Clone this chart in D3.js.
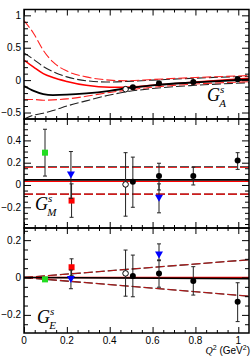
<!DOCTYPE html>
<html><head><meta charset="utf-8">
<script src="https://cdn.jsdelivr.net/npm/d3@7"></script>
<style>
body{margin:0;background:#fff}
text{font-family:"Liberation Sans",Arial,sans-serif;fill:#000}
.lab{font-family:"Liberation Serif","Times New Roman",serif;font-style:italic}
</style></head><body>
<svg id="chart" width="252" height="360"></svg>
<script>
// model curves, G_A panel
var qCurve      = [0, 0.045, 0.09, 0.135, 0.2, 0.29, 0.4, 0.48, 0.6, 0.8, 1.05];
var gaRedDashHi = [0.92, 0.72, 0.46, 0.28, 0.14, 0.05, 0.0, -0.01, 0.01, 0.04, 0.07];
var gaBlkDashHi = [0.42, 0.32, 0.21, 0.13, 0.05, -0.01, -0.03, -0.02, 0.0, 0.03, 0.06];
var gaRedSolid  = [0.31, 0.2, 0.1, 0.04, -0.02, -0.08, -0.11, -0.11, -0.08, -0.03, 0.03];
var gaBlkSolid  = [-0.09, -0.165, -0.215, -0.23, -0.225, -0.205, -0.165, -0.125, -0.08, -0.035, 0.01];
var gaRedDashLo = [-0.3, -0.3, -0.31, -0.305, -0.29, -0.25, -0.19, -0.155, -0.11, -0.06, -0.025];
var gaBlkDashLo = [-0.6, -0.54, -0.51, -0.47, -0.4, -0.32, -0.23, -0.18, -0.13, -0.08, -0.04];

// straight fit lines for G_M and G_E
var qLine       = [0, 1.05];
var gmBlkSolid  = [0.045, 0.045];
var gmRedSolid  = [0.032, 0.032];
var gmDashHi    = [0.165, 0.165];
var gmDashLo    = [-0.082, -0.082];
var geBlkSolid  = [0, -0.006];
var geRedSolid  = [0, 0.0];
var geDashHi    = [0, 0.095];
var geDashLo    = [0, -0.1];

// data points
var qBlack  = [0.508, 0.63, 0.79, 0.997];
var qOpen   = [0.474];
var qGreen  = [0.098];
var qRed    = [0.222];
var qBlue   = [0.219, 0.63];

var gaBlack = [-0.11, -0.05, -0.03, 0.015];
var gaBlackErr = [0.02, 0.02, 0.02, 0.02];
var gaOpen  = [-0.14];
var gaOpenErr = [0.02];

var gmBlack = [0.03, 0.08, 0.08, 0.22];
var gmBlackLo = [-0.2, -0.045, 0.0, 0.14];
var gmBlackHi = [0.25, 0.195, 0.16, 0.29];
var gmOpen = [0.005], gmOpenLo = [-0.28], gmOpenHi = [0.29];
var gmGreen = [0.29], gmGreenLo = [0.08], gmGreenHi = [0.5];
var gmRed = [-0.14], gmRedLo = [-0.29], gmRedHi = [0.01];
var gmBlue = [0.09, -0.12], gmBlueLo = [-0.12, -0.25], gmBlueHi = [0.3, 0.01];

var geBlack = [0.008, 0.022, -0.019, -0.13];
var geBlackLo = [-0.103, -0.052, -0.094, -0.236];
var geBlackHi = [0.12, 0.094, 0.058, -0.028];
var geOpen = [0.022], geOpenLo = [-0.1], geOpenHi = [0.147];
var geGreen = [-0.01], geGreenLo = [-0.02], geGreenHi = [0.0];
var geRed = [0.055], geRedLo = [0.01], geRedHi = [0.1];
var geBlue = [-0.01, 0.12], geBlueLo = [-0.06, 0.09], geBlueHi = [0.04, 0.18];

var xTicks = [0, 0.2, 0.4, 0.6, 0.8, 1];
var xLabels = ["0", "0.2", "0.4", "0.6", "0.8", "1"];

var svg = d3.select("#chart");
var left = 24, right = 249;
var x = d3.scaleLinear().domain([0, 1.05]).range([left, right]);

var panels = [
  {top: 9.5, bottom: 119, dom: [-0.6, 1.09], major: [-0.5, 0, 0.5, 1], minorStep: 0.1, sub: "A"},
  {top: 119, bottom: 228, dom: [-0.386, 0.592], major: [-0.2, 0, 0.2, 0.4], minorStep: 0.05, sub: "M"},
  {top: 228, bottom: 333, dom: [-0.297, 0.265], major: [-0.2, 0, 0.2], minorStep: 0.05, sub: "E"}
];
panels.forEach(function(p){
  p.y = d3.scaleLinear().domain(p.dom).range([p.bottom, p.top]);
});

var fmt = function(v){ return v < 0 ? "\u2212" + Math.abs(v) : "" + v; };

var defs = svg.append("defs");

var drawCurve = function(g, p, xs, ys, color, width, dash, smooth)
{
  var line = d3.line()
    .x(function(d){ return x(d[0]); })
    .y(function(d){ return p.y(d[1]); })
    .curve(smooth ? d3.curveMonotoneX : d3.curveLinear);
  g.append("path")
    .attr("d", line(d3.zip(xs, ys)))
    .attr("fill", "none")
    .attr("stroke", color)
    .attr("stroke-width", width)
    .attr("stroke-dasharray", dash || null);
};

var drawPoints = function(g, p, xs, ys, lo, hi, shape, color)
{
  var pts = d3.zip(xs, ys, lo, hi);
  var eb = g.append("g").attr("stroke", "#222").attr("stroke-width", 1);
  pts.forEach(function(d){
    var px = x(d[0]);
    eb.append("line").attr("x1", px).attr("x2", px).attr("y1", p.y(d[2])).attr("y2", p.y(d[3]));
    eb.append("line").attr("x1", px - 2).attr("x2", px + 2).attr("y1", p.y(d[2])).attr("y2", p.y(d[2]));
    eb.append("line").attr("x1", px - 2).attr("x2", px + 2).attr("y1", p.y(d[3])).attr("y2", p.y(d[3]));
  });
  pts.forEach(function(d){
    var px = x(d[0]), py = p.y(d[1]);
    if (shape == "circle")
      g.append("circle").attr("cx", px).attr("cy", py).attr("r", 3).attr("fill", "#000");
    else if (shape == "open")
      g.append("circle").attr("cx", px).attr("cy", py).attr("r", 2.8).attr("fill", "#fff").attr("stroke", "#000").attr("stroke-width", 1);
    else if (shape == "square")
      g.append("rect").attr("x", px - 3).attr("y", py - 3).attr("width", 6).attr("height", 6).attr("fill", color);
    else
      g.append("path").attr("d", "M" + (px - 4) + "," + (py - 3.5) + "L" + (px + 4) + "," + (py - 3.5) + "L" + px + "," + (py + 3.5) + "Z").attr("fill", color);
  });
};

panels.forEach(function(p, i){
  defs.append("clipPath").attr("id", "clip" + i)
    .append("rect").attr("x", left).attr("y", p.top).attr("width", right - left).attr("height", p.bottom - p.top);
  p.g = svg.append("g");
  p.plot = p.g.append("g").attr("clip-path", "url(#clip" + i + ")");
});

// G_A panel
var pa = panels[0];
drawCurve(pa.plot, pa, qCurve, gaBlkDashLo, "#222", 1.1, "9,3", true);
drawCurve(pa.plot, pa, qCurve, gaRedDashLo, "#f22", 1.1, "9,3", true);
drawCurve(pa.plot, pa, qCurve, gaBlkDashHi, "#222", 1.1, "9,3", true);
drawCurve(pa.plot, pa, qCurve, gaRedDashHi, "#f22", 1.1, "9,3", true);
drawCurve(pa.plot, pa, qCurve, gaRedSolid, "#f00", 1.6, null, true);
drawCurve(pa.plot, pa, qCurve, gaBlkSolid, "#000", 1.8, null, true);
drawPoints(pa.plot, pa, qOpen, gaOpen, gaOpen.map(function(v,k){return v - gaOpenErr[k];}), gaOpen.map(function(v,k){return v + gaOpenErr[k];}), "open");
drawPoints(pa.plot, pa, qBlack, gaBlack, gaBlack.map(function(v,k){return v - gaBlackErr[k];}), gaBlack.map(function(v,k){return v + gaBlackErr[k];}), "circle");

// G_M panel
var pm = panels[1];
drawCurve(pm.plot, pm, qLine, gmDashHi, "#555", 1.3, "9,3");
drawCurve(pm.plot, pm, qLine, gmDashHi.map(function(v){return v - 0.008;}), "#e22", 1, "9,3");
drawCurve(pm.plot, pm, qLine, gmDashLo, "#444", 1.3, "9,3");
drawCurve(pm.plot, pm, qLine, gmDashLo, "#e00", 1.1, "9,3");
drawCurve(pm.plot, pm, qLine, gmRedSolid, "#f00", 1.4);
drawCurve(pm.plot, pm, qLine, gmBlkSolid, "#000", 1.8);
drawPoints(pm.plot, pm, qGreen, gmGreen, gmGreenLo, gmGreenHi, "square", "#22dd22");
drawPoints(pm.plot, pm, qRed, gmRed, gmRedLo, gmRedHi, "square", "#f00");
drawPoints(pm.plot, pm, qBlue, gmBlue, gmBlueLo, gmBlueHi, "tri", "#00f");
drawPoints(pm.plot, pm, qOpen, gmOpen, gmOpenLo, gmOpenHi, "open");
drawPoints(pm.plot, pm, qBlack, gmBlack, gmBlackLo, gmBlackHi, "circle");

// G_E panel
var pe = panels[2];
drawCurve(pe.plot, pe, qLine, geDashHi, "#333", 1.3, "9,3");
drawCurve(pe.plot, pe, qLine, geDashHi, "#c11", 0.9, "9,3");
drawCurve(pe.plot, pe, qLine, geDashLo, "#333", 1.3, "9,3");
drawCurve(pe.plot, pe, qLine, geDashLo, "#c11", 0.9, "9,3");
drawCurve(pe.plot, pe, qLine, geRedSolid, "#f00", 1.4);
drawCurve(pe.plot, pe, qLine, geBlkSolid, "#000", 1.6);
drawPoints(pe.plot, pe, qGreen, geGreen, geGreenLo, geGreenHi, "square", "#22dd22");
drawPoints(pe.plot, pe, qRed, geRed, geRedLo, geRedHi, "square", "#f00");
drawPoints(pe.plot, pe, qBlue, geBlue, geBlueLo, geBlueHi, "tri", "#00f");
drawPoints(pe.plot, pe, qOpen, geOpen, geOpenLo, geOpenHi, "open");
drawPoints(pe.plot, pe, qBlack, geBlack, geBlackLo, geBlackHi, "circle");

// frames, ticks, labels
var xMinor = d3.range(0, 1.05, 0.05).filter(function(v){ return Math.round(v * 100) % 20 != 0; });
panels.forEach(function(p, i){
  var h = p.bottom - p.top;
  var yMinor = d3.range(Math.ceil(p.dom[0] / p.minorStep) * p.minorStep, p.dom[1], p.minorStep)
    .filter(function(v){ return !p.major.some(function(m){ return Math.abs(m - v) < 1e-6; }); });

  var axL = d3.axisRight(p.y).tickValues(p.major).tickSize(7).tickFormat("");
  var axLm = d3.axisRight(p.y).tickValues(yMinor).tickSize(4).tickFormat("");
  var axR = d3.axisLeft(p.y).tickValues(p.major).tickSize(7).tickFormat("");
  var axRm = d3.axisLeft(p.y).tickValues(yMinor).tickSize(4).tickFormat("");
  var axB = d3.axisTop(x).tickValues(xTicks).tickSize(6).tickFormat("");
  var axBm = d3.axisTop(x).tickValues(xMinor).tickSize(3).tickFormat("");
  var axT = d3.axisBottom(x).tickValues(xTicks).tickSize(6).tickFormat("");
  var axTm = d3.axisBottom(x).tickValues(xMinor).tickSize(3).tickFormat("");

  [[axL, left, 0], [axLm, left, 0], [axR, right, 0], [axRm, right, 0]].forEach(function(a){
    p.g.append("g").attr("transform", "translate(" + a[1] + ",0)").call(a[0])
      .call(function(s){ s.select(".domain").remove(); s.selectAll("line").attr("stroke", "#000").attr("stroke-width", 1); });
  });
  [[axB, p.bottom], [axBm, p.bottom], [axT, p.top], [axTm, p.top]].forEach(function(a){
    p.g.append("g").attr("transform", "translate(0," + a[1] + ")").call(a[0])
      .call(function(s){ s.select(".domain").remove(); s.selectAll("line").attr("stroke", "#000").attr("stroke-width", 1); });
  });

  p.g.append("rect").attr("x", left).attr("y", p.top).attr("width", right - left).attr("height", h)
    .attr("fill", "none").attr("stroke", "#000").attr("stroke-width", 1.5);

  p.g.selectAll("text.yl").data(p.major).enter().append("text")
    .attr("class", "yl")
    .attr("x", left - 3).attr("y", function(d){ return p.y(d); })
    .attr("dy", "0.35em").attr("text-anchor", "end").attr("font-size", 10)
    .text(fmt);
});

// x tick labels
svg.selectAll("text.xl").data(xTicks).enter().append("text")
  .attr("class", "xl")
  .attr("x", function(d){ return x(d); }).attr("y", 344)
  .attr("text-anchor", "middle").attr("font-size", 10)
  .text(function(d, k){ return xLabels[k]; });

// x axis title
var xt = svg.append("text").attr("x", 250).attr("y", 354).attr("text-anchor", "end").attr("font-size", 10);
xt.append("tspan").attr("class", "lab").attr("font-family", "Liberation Serif").text("Q");
xt.append("tspan").attr("font-size", 7).attr("dy", -4).text("2");
xt.append("tspan").attr("dy", 4).text(" (GeV");
xt.append("tspan").attr("font-size", 7).attr("dy", -4).text("2");
xt.append("tspan").attr("dy", 4).text(")");

// form factor labels
var labelPos = [[207, 101], [35, 210], [37, 323]];
panels.forEach(function(p, i){
  var t = svg.append("text").attr("class", "lab").attr("x", labelPos[i][0]).attr("y", labelPos[i][1]).attr("font-size", 18);
  t.append("tspan").text("G");
  t.append("tspan").attr("font-size", 11).attr("dy", -8).attr("dx", 0).text("s");
  t.append("tspan").attr("font-size", 11).attr("dy", 14).attr("dx", -5).text(p.sub);
});
</script>
</body></html>
